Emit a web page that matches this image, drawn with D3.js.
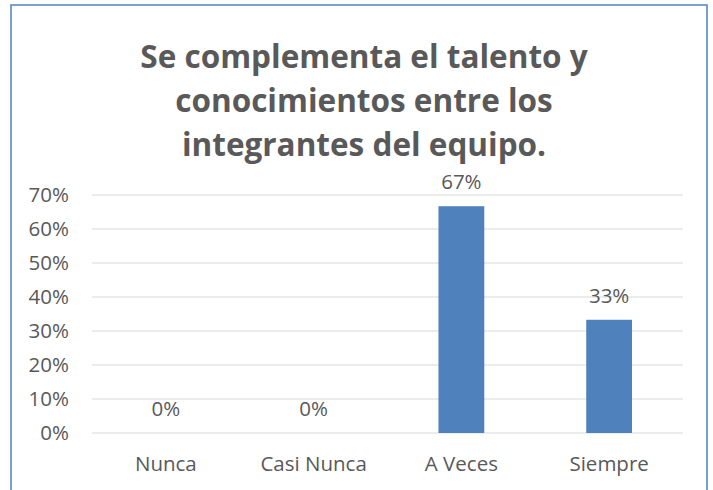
<!DOCTYPE html>
<head>
<meta charset="utf-8">
<style>
body { margin: 0; background: #fff; }
text { font-family: "Open Sans", Lato, sans-serif; fill: #595959; }
</style>
</head>
<body>
<script src="https://cdn.jsdelivr.net/npm/d3@7"></script>
<script>

// datos
var categorias = ["Nunca", "Casi Nunca", "A Veces", "Siempre"];
var valores = [0, 0, 0.667, 0.333];
var etiquetas = ["0%", "0%", "67%", "33%"];
var ticks = [0, 0.1, 0.2, 0.3, 0.4, 0.5, 0.6, 0.7];
var titulo = ["Se complementa el talento y", "conocimientos entre los", "integrantes del equipo."];

var width = 713, height = 490;

var svg = d3.select("body").append("svg")
	.attr("width", width)
	.attr("height", height);

// marco
svg.append("rect")
	.attr("x", 11).attr("y", 5)
	.attr("width", 696).attr("height", 500)
	.attr("fill", "none")
	.attr("stroke", "#4f81bd")
	.attr("stroke-width", 1.5);

// titulo
svg.append("g").selectAll("text")
	.data(titulo)
	.enter().append("text")
	.attr("x", 364)
	.attr("y", function (d, i) { return 68 + i * 44; })
	.attr("text-anchor", "middle")
	.style("font-size", "31.5px")
	.style("font-weight", "bold")
	.text(function (d) { return d; });

var x = d3.scaleBand().domain(categorias).range([92, 683]).paddingInner(0.69).paddingOuter(0.345);
var y = d3.scaleLinear().domain([0, 0.7]).range([433, 195]);

// lineas de cuadricula
svg.append("g").selectAll("line")
	.data(ticks)
	.enter().append("line")
	.attr("x1", 92).attr("x2", 683)
	.attr("y1", function (d) { return y(d); })
	.attr("y2", function (d) { return y(d); })
	.attr("stroke", "#d9d9d9")
	.attr("stroke-width", 1);

// eje y
svg.append("g").selectAll("text")
	.data(ticks)
	.enter().append("text")
	.attr("x", 69)
	.attr("y", function (d) { return y(d) + 7; })
	.attr("text-anchor", "end")
	.style("font-size", "20.5px")
	.text(function (d) { return Math.round(d * 100) + "%"; });

// barras
svg.append("g").selectAll("rect")
	.data(valores)
	.enter().append("rect")
	.attr("x", function (d, i) { return x(categorias[i]); })
	.attr("y", function (d) { return y(d); })
	.attr("width", x.bandwidth())
	.attr("height", function (d) { return y(0) - y(d); })
	.attr("fill", "#4f81bd");

// etiquetas de datos
svg.append("g").selectAll("text")
	.data(valores)
	.enter().append("text")
	.attr("x", function (d, i) { return x(categorias[i]) + x.bandwidth() / 2; })
	.attr("y", function (d) { return y(d) - 17; })
	.attr("text-anchor", "middle")
	.style("font-size", "20.5px")
	.text(function (d, i) { return etiquetas[i]; });

// eje x
svg.append("g").selectAll("text")
	.data(categorias)
	.enter().append("text")
	.attr("x", function (d) { return x(d) + x.bandwidth() / 2; })
	.attr("y", 471)
	.attr("text-anchor", "middle")
	.style("font-size", "20.5px")
	.text(function (d) { return d; });

</script>
</body>
</html>
